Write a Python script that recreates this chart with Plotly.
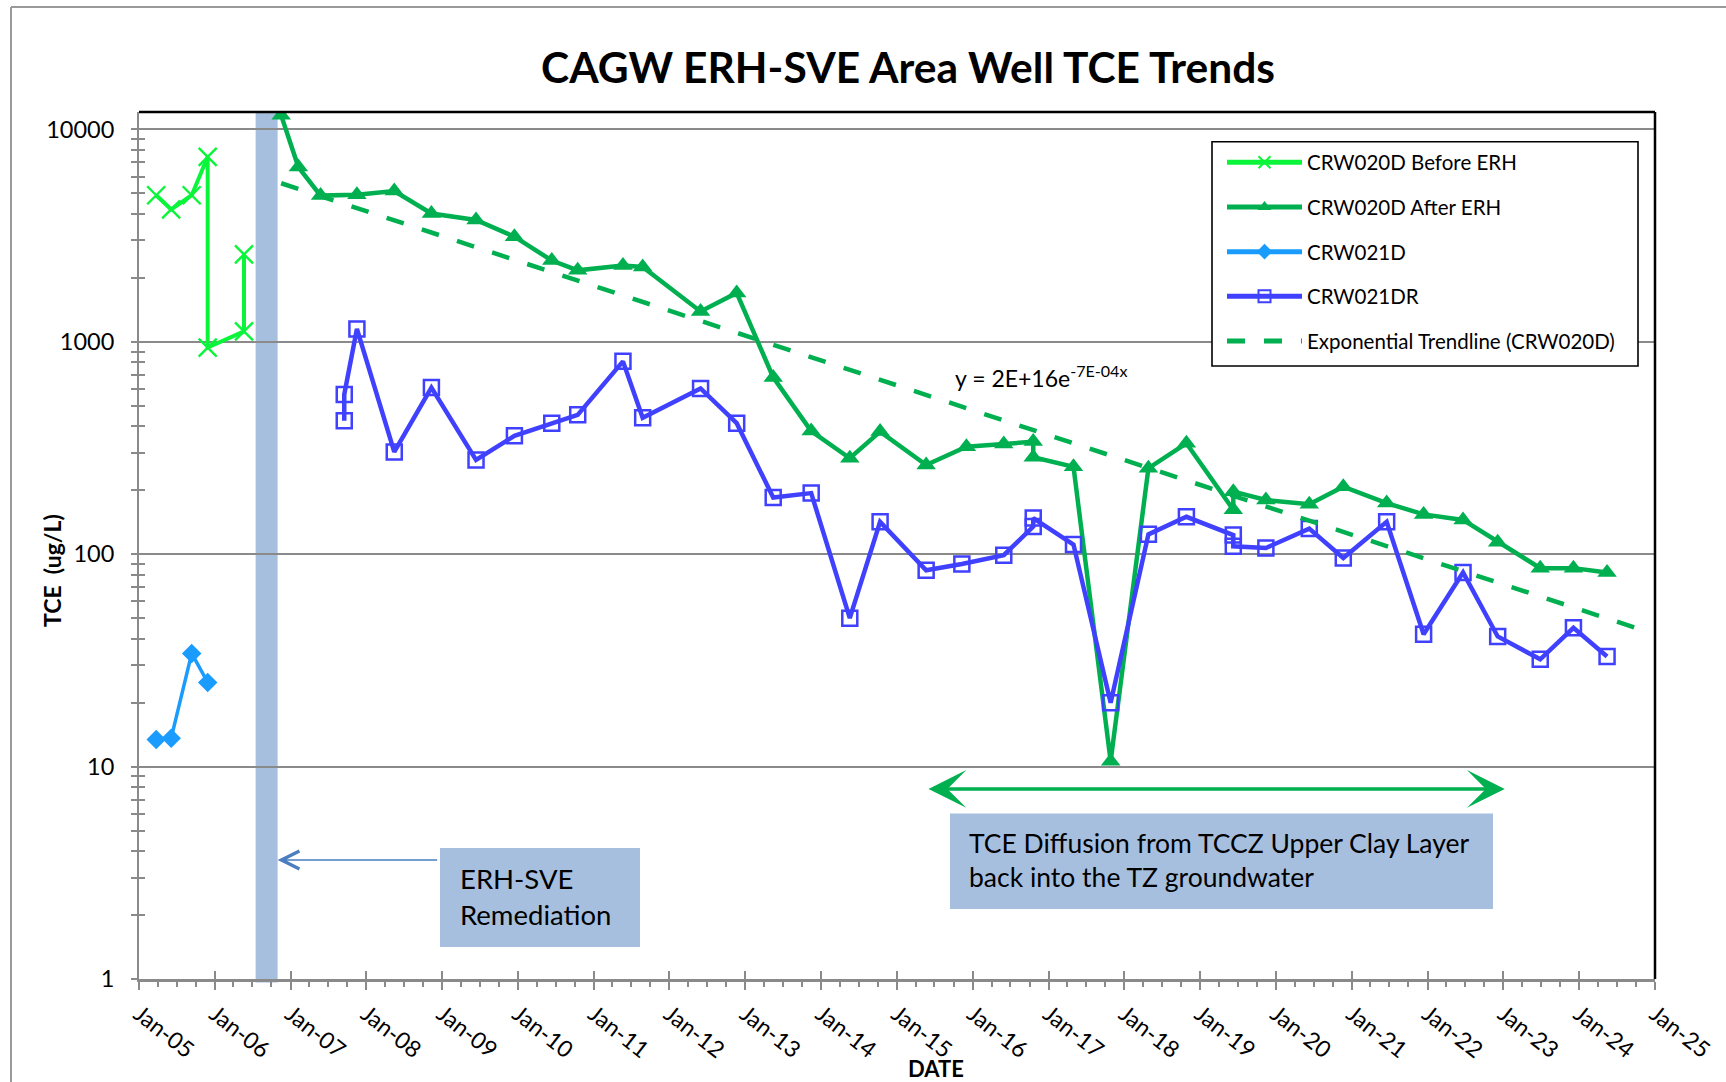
import math
import plotly.graph_objects as go

# ---------------- data ----------------
title_text = "CAGW ERH-SVE Area Well TCE Trends"
y_title = "TCE  (ug/L)"
x_title = "DATE"

before_name = "CRW020D Before ERH"
before_dates = ["2005-03-25", "2005-06-05", "2005-09-12", "2005-11-28", "2005-11-28",
                "2006-05-22", "2006-05-22"]
before_vals = [4900, 4200, 4900, 7430, 940, 1120, 2580]

after_name = "CRW020D After ERH"
after_dates = ["2006-11-17", "2007-02-08", "2007-05-26", "2007-11-17", "2008-05-15",
               "2008-11-10", "2009-06-13", "2009-12-15", "2010-06-13", "2010-10-16",
               "2011-05-22", "2011-08-25", "2012-05-30", "2012-11-20", "2013-05-15",
               "2013-11-14", "2014-05-19", "2014-10-12", "2015-05-22", "2015-12-02",
               "2016-05-30", "2016-10-19", "2016-10-19", "2017-05-01", "2017-10-27",
               "2018-04-27", "2018-10-27", "2019-06-10", "2019-06-10", "2019-11-14",
               "2020-06-10", "2020-11-21", "2021-06-18", "2021-12-13", "2022-06-21",
               "2022-12-05", "2023-06-28", "2023-12-05", "2024-05-15"]
after_vals = [11650, 6650, 4880, 4930, 5130,
              4020, 3750, 3125, 2415, 2170,
              2290, 2250, 1390, 1700, 680,
              380, 283, 378, 263, 321,
              330, 339, 286, 258, 10.6,
              254, 333, 162, 197, 180,
              172, 208, 174, 154, 145,
              114, 86, 86, 82]

crw021d_name = "CRW021D"
crw021d_dates = ["2005-03-25", "2005-06-05", "2005-09-12", "2005-11-28"]
crw021d_vals = [13.4, 13.6, 34.1, 24.9]

crw021dr_name = "CRW021DR"
crw021dr_dates = ["2007-09-17", "2007-09-17", "2007-11-17", "2008-05-15", "2008-11-10",
                  "2009-06-13", "2009-12-15", "2010-06-13", "2010-10-16", "2011-05-22",
                  "2011-08-25", "2012-05-30", "2012-11-20", "2013-05-15", "2013-11-14",
                  "2014-05-19", "2014-10-12", "2015-05-22", "2015-11-10", "2016-05-30",
                  "2016-10-19", "2016-10-19", "2017-05-01", "2017-10-27", "2018-04-27",
                  "2018-10-27", "2019-06-10", "2019-06-10", "2019-11-14", "2020-06-10",
                  "2020-11-21", "2021-06-18", "2021-12-13", "2022-06-21", "2022-12-05",
                  "2023-06-28", "2023-12-05", "2024-05-15"]
crw021dr_vals = [425, 565, 1150, 303, 609,
                 278, 361, 414, 453, 809,
                 439, 603, 414, 185, 194,
                 50, 142, 84, 90, 99,
                 135, 148, 111, 20, 124,
                 150, 123, 109, 107, 132,
                 96, 142, 42, 82, 41,
                 32, 45, 33]

trend_name = "Exponential Trendline (CRW020D)"
trend_dates = ["2006-11-17", "2024-12-01"]
trend_vals = [5580, 43]

equation_text = "y = 2E+16e<sup>-7E-04x</sup>"
erh_text = "ERH-SVE<br>Remediation"
diffusion_text = "TCE Diffusion from TCCZ Upper Clay Layer<br>back into the TZ groundwater"

erh_period = ["2006-07-17", "2006-10-31"]
diffusion_span = ["2015-05-26", "2023-01-08"]
diffusion_level = 7.85

x_range = ["2005-01-01", "2025-01-01"]
y_top = 12080

# ---------------- layout geometry ----------------
W, H = 1726, 1082
L, R, T, B = 139, 71, 112, 103
PW, PH = W - L - R, H - T - B


def px_x(px):
    return (px - L) / PW


def px_y(py):
    return 1 - (py - T) / PH


FONT = "Lato"
GRAY = "#8A8A8A"
BOXC = "#A7BFDE"
GREEN = "#00B050"

y_range = [0, math.log10(y_top)]

fig = go.Figure()

fig.add_trace(go.Scatter(
    x=before_dates, y=before_vals, name=before_name, mode="lines+markers",
    legendgroup="g1",
    line=dict(color="#0AF53A", width=4),
    marker=dict(symbol="x-thin-open", size=18, line=dict(width=2.4, color="#0AF53A"))))

fig.add_trace(go.Scatter(
    x=after_dates, y=after_vals, name=after_name, mode="lines+markers",
    legendgroup="g2",
    line=dict(color=GREEN, width=4.5),
    marker=dict(symbol="triangle-up", size=17, color=GREEN)))

fig.add_trace(go.Scatter(
    x=crw021d_dates, y=crw021d_vals, name=crw021d_name, mode="lines+markers",
    legendgroup="g3",
    line=dict(color="#1A9CFF", width=3.5),
    marker=dict(symbol="diamond", size=15, color="#1A9CFF")))

fig.add_trace(go.Scatter(
    x=crw021dr_dates, y=crw021dr_vals, name=crw021dr_name, mode="lines+markers",
    legendgroup="g4",
    line=dict(color="#4040FF", width=4.5),
    marker=dict(symbol="square-open", size=15, color="#4040FF", line=dict(width=2.5))))

fig.add_trace(go.Scatter(
    x=trend_dates, y=trend_vals, name=trend_name, mode="lines",
    legendgroup="g5", xaxis="x2", yaxis="y2",
    line=dict(color=GREEN, width=4.5, dash="18px,19px")))

shapes = [
    # ERH period band
    dict(type="rect", xref="x", yref="paper", x0=erh_period[0], x1=erh_period[1],
         y0=-0.004, y1=1, fillcolor=BOXC, line=dict(width=0), layer="between"),
    # top / right plot borders
    dict(type="line", xref="paper", yref="paper", x0=0, x1=1, y0=1, y1=1,
         line=dict(color="black", width=2.5), layer="above"),
    dict(type="line", xref="paper", yref="paper", x0=1, x1=1, y0=0, y1=1,
         line=dict(color="black", width=2.5), layer="above"),
    # legend frame
    dict(type="rect", xref="paper", yref="paper", x0=px_x(1212), x1=px_x(1638),
         y0=px_y(366), y1=px_y(141.7), fillcolor="white",
         line=dict(color="black", width=1.6), layer="above"),
    # text boxes
    dict(type="rect", xref="paper", yref="paper", x0=px_x(440), x1=px_x(640),
         y0=px_y(947), y1=px_y(848), fillcolor=BOXC, line=dict(width=0), layer="above"),
    dict(type="rect", xref="paper", yref="paper", x0=px_x(950), x1=px_x(1493),
         y0=px_y(909), y1=px_y(813.5), fillcolor=BOXC, line=dict(width=0), layer="above"),
    # outer chart frame
    dict(type="line", xref="paper", yref="paper", x0=px_x(11), x1=px_x(11),
         y0=px_y(7), y1=px_y(1090), line=dict(color="#9A9A9A", width=2)),
    dict(type="line", xref="paper", yref="paper", x0=px_x(11), x1=px_x(1730),
         y0=px_y(7), y1=px_y(7), line=dict(color="#9A9A9A", width=2)),
]

annotations = [
    dict(text=equation_text, xref="paper", yref="paper", x=px_x(953), y=px_y(376),
         xanchor="left", yanchor="middle", showarrow=False,
         font=dict(family=FONT, size=23, color="black")),
    dict(text=erh_text, xref="paper", yref="paper", x=px_x(458), y=px_y(896),
         xanchor="left", yanchor="middle", align="left", showarrow=False,
         font=dict(family=FONT, size=27.5, color="black")),
    dict(text=diffusion_text, xref="paper", yref="paper", x=px_x(967), y=px_y(860),
         xanchor="left", yanchor="middle", align="left", showarrow=False,
         font=dict(family=FONT, size=26.5, color="black")),
    # arrow from ERH box to band
    dict(text="", xref="x", yref="paper", x=erh_period[1], y=px_y(860),
         ax=161, ay=0, showarrow=True, arrowhead=5, arrowsize=2.2, arrowwidth=1.6,
         arrowcolor="#4A7EC0", standoff=0, startstandoff=0),
    # green double arrow
    dict(text="", xref="x", yref="y", x=diffusion_span[1], y=math.log10(diffusion_level),
         axref="x", ayref="y", ax=diffusion_span[0], ay=math.log10(diffusion_level),
         showarrow=True, arrowside="end+start", arrowhead=3, arrowsize=1.8,
         arrowwidth=3.5, arrowcolor=GREEN, standoff=0, startstandoff=0),
    # axis titles
    dict(text="<b>" + y_title + "</b>", xref="paper", yref="paper", x=px_x(52),
         y=px_y(571), textangle=-90, showarrow=False, xanchor="center", yanchor="middle",
         font=dict(family=FONT, size=23, color="black")),
    dict(text="<b>" + x_title + "</b>", xref="paper", yref="paper", x=px_x(936),
         y=px_y(1068), showarrow=False, xanchor="center", yanchor="middle",
         font=dict(family=FONT, size=22, color="black")),
]

fig.update_layout(
    width=W, height=H,
    margin=dict(l=L, r=R, t=T, b=B, autoexpand=False),
    paper_bgcolor="white", plot_bgcolor="white",
    font=dict(family=FONT, color="black"),
    title=dict(text="<b>" + title_text + "</b>", x=908 / W, xanchor="center",
               y=1 - 68 / H, yanchor="middle", xref="container", yref="container",
               font=dict(family=FONT, size=42.5, color="black")),
    xaxis=dict(type="date", range=x_range, dtick="M12", tick0="2005-01-01",
               tickformat="%b-%y", tickangle=38, ticks="outside", ticklen=8,
               tickwidth=1.5, tickcolor=GRAY, showline=True, linecolor=GRAY, linewidth=2.5,
               showgrid=False, zeroline=False, ticklabelstandoff=2,
               tickfont=dict(family=FONT, size=23, color="black"),
               minor=dict(dtick="M3", ticks="outside", ticklen=5, tickwidth=1.5,
                          tickcolor=GRAY, showgrid=False)),
    yaxis=dict(type="log", range=y_range, dtick=1, tick0=0, tickformat="d",
               ticks="outside", ticklen=6, tickwidth=1.5, tickcolor=GRAY,
               showline=True, linecolor=GRAY, linewidth=2, showgrid=True,
               gridcolor=GRAY, gridwidth=1.5, zeroline=False, ticklabelstandoff=12,
               tickfont=dict(family=FONT, size=23.5, color="black"),
               minor=dict(dtick="D1", ticks="outside", ticklen=6, tickwidth=1.5,
                          tickcolor=GRAY, showgrid=False)),
    xaxis2=dict(type="date", range=x_range, overlaying="x", anchor="y", side="bottom",
                dtick="M12", tick0="2005-01-01", ticks="inside", ticklen=8, tickwidth=1.5,
                tickcolor=GRAY, showticklabels=False, showgrid=False, showline=False,
                zeroline=False),
    yaxis2=dict(type="log", range=y_range, overlaying="y", anchor="x", side="left",
                dtick=1, tick0=0, ticks="inside", ticklen=6, tickwidth=1.5, tickcolor=GRAY,
                showticklabels=False, showgrid=False, showline=False, zeroline=False,
                minor=dict(dtick="D1", ticks="inside", ticklen=6, tickwidth=1.5,
                           tickcolor=GRAY, showgrid=False)),
    legend=dict(x=px_x(1222), y=px_y(142.5), xanchor="left", yanchor="top",
                bgcolor="rgba(0,0,0,0)", borderwidth=0,
                font=dict(family=FONT, size=20.5, color="black"),
                itemwidth=75, itemsizing="constant", tracegroupgap=15,
                traceorder="grouped"),
    shapes=shapes,
    annotations=annotations,
)

fig.write_html("out.html", config={"displayModeBar": False},
               post_script="document.body.style.margin='0';document.body.style.overflow='hidden';")
